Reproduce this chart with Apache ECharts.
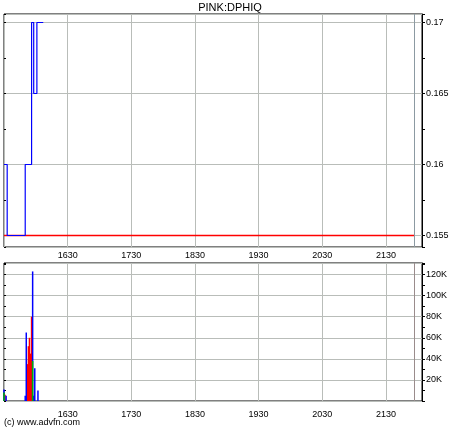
<!DOCTYPE html>
<html><head><meta charset="utf-8">
<script src="https://cdn.jsdelivr.net/npm/echarts@6/dist/echarts.min.js"></script>
<style>html,body{margin:0;padding:0;background:#fff}#c{width:460px;height:430px}</style>
</head><body><div id="c"></div>
<script>
// ---- data ----
const chartTitle = 'PINK:DPHIQ';
const copyright = '(c) www.advfn.com';
const priceTimes = ['15:30', '15:33', '15:50', '15:56', '15:58', '16:01', '16:07'];
const prices     = [0.16,    0.155,   0.16,    0.17,    0.165,   0.17,    0.17];
const refTimes   = ['15:30', '21:57'];
const refPrices  = [0.155,   0.155];
const markerTime = '21:57';
const upTimes    = ['15:30', '15:32', '15:50', '15:51', '15:57', '15:58', '15:59', '16:02'];
const upVols     = [11000,   5000,    5000,    65000,   123000,  5000,    31000,   10000];
const downTimes  = ['15:31', '15:52', '15:53', '15:54', '15:55', '15:56'];
const downVols   = [6000,    35000,   52000,   60000,   45000,   80000];
const flatTimes  = ['15:30', '15:57'];
const flatVols   = [8000,    38000];

function toMin(s) { const p = s.split(':'); return (+p[0]) * 60 + (+p[1]); }
function pairs(ts, vs) { return ts.map((t, i) => [toMin(t), vs[i]]); }
function hhmm(v) { const h = Math.floor(v / 60), m = Math.round(v - h * 60); return String(h) + String(m).padStart(2, '0'); }

const FONT = 'Liberation Sans';
const gridColor = '#b9bdb9';
const xMin = 930, xMax = 1324;
const pMin = 0.15419, pMax = 0.170599;
const vMax = 131000;

function xAxis(gi, margin) {
  return {
    type: 'value', gridIndex: gi, min: xMin, max: xMax, interval: 60,
    axisLine: { show: false }, axisTick: { show: false },
    splitLine: { show: true, lineStyle: { color: gridColor, width: 1 } },
    axisLabel: { formatter: hhmm, showMinLabel: false, showMaxLabel: false, fontSize: 9, color: '#000', fontFamily: FONT, margin: margin }
  };
}

const chart = echarts.init(document.getElementById('c'), null, { renderer: 'canvas' });
chart.setOption({
  animation: false,
  backgroundColor: '#fff',
  title: { text: chartTitle, left: 'center', top: 2, padding: 0, textStyle: { fontSize: 11, fontWeight: 'normal', color: '#000', fontFamily: FONT } },
  graphic: [{ type: 'text', left: 4, top: 418, style: { text: copyright, fontSize: 9, fill: '#000', fontFamily: FONT } }],
  grid: [
    { left: 4, right: 38, top: 14, height: 233, show: true, borderColor: '#000', borderWidth: 1, backgroundColor: '#fff' },
    { left: 4, right: 38, top: 263, height: 138, show: true, borderColor: '#000', borderWidth: 1, backgroundColor: '#fff' }
  ],
  xAxis: [xAxis(0, 4), xAxis(1, 9)],
  yAxis: [
    { type: 'value', gridIndex: 0, position: 'right', min: pMin, max: pMax, minInterval: 0.005, maxInterval: 0.005,
      axisLine: { show: true, lineStyle: { color: '#000' } },
      axisTick: { show: true, length: 3, lineStyle: { color: '#000' } },
      minorTick: { show: true, splitNumber: 2, length: 3, lineStyle: { color: '#000' } },
      splitLine: { show: true, lineStyle: { color: gridColor } },
      axisLabel: { fontSize: 9, color: '#000', fontFamily: FONT, margin: 4, showMinLabel: false, showMaxLabel: false,
        formatter: v => String(parseFloat(v.toFixed(4))) } },
    { type: 'value', gridIndex: 0, position: 'left', min: pMin, max: pMax, minInterval: 0.0025, maxInterval: 0.0025,
      axisLine: { show: false }, axisTick: { show: true, inside: true, length: 2, lineStyle: { color: '#000' } },
      axisLabel: { show: false }, splitLine: { show: false } },
    { type: 'value', gridIndex: 1, position: 'right', min: 0, max: vMax, minInterval: 20000, maxInterval: 20000,
      axisLine: { show: true, lineStyle: { color: '#000' } },
      axisTick: { show: true, length: 3, lineStyle: { color: '#000' } },
      minorTick: { show: true, splitNumber: 2, length: 3, lineStyle: { color: '#000' } },
      splitLine: { show: true, lineStyle: { color: gridColor } },
      axisLabel: { fontSize: 9, color: '#000', fontFamily: FONT, margin: 4, showMinLabel: false, showMaxLabel: false,
        formatter: v => (v / 1000) + 'K' } },
    { type: 'value', gridIndex: 1, position: 'left', min: 0, max: vMax, minInterval: 10000, maxInterval: 10000,
      axisLine: { show: false }, axisTick: { show: true, inside: true, length: 2, lineStyle: { color: '#000' } },
      axisLabel: { show: false }, splitLine: { show: false } }
  ],
  series: [
    { type: 'line', xAxisIndex: 0, yAxisIndex: 0, data: pairs(refTimes, refPrices), symbol: 'none', z: 3,
      lineStyle: { color: '#ff0000', width: 1.6 }, silent: true,
      markLine: { silent: true, symbol: 'none', label: { show: false }, lineStyle: { color: '#8c9aa2', type: 'solid', width: 1 },
        data: [{ xAxis: toMin(markerTime) }] } },
    { type: 'line', xAxisIndex: 0, yAxisIndex: 0, data: pairs(priceTimes, prices), step: 'end', symbol: 'none', z: 4,
      lineStyle: { color: '#0000ff', width: 1.2 } },
    { type: 'bar', xAxisIndex: 1, yAxisIndex: 2, data: pairs(downTimes, downVols), barWidth: 1.5, barGap: '-100%',
      itemStyle: { color: '#ff0000' },
      markLine: { silent: true, symbol: 'none', label: { show: false }, lineStyle: { color: '#9a8c8c', type: 'solid', width: 1 },
        data: [{ xAxis: toMin(markerTime) }] } },
    { type: 'bar', xAxisIndex: 1, yAxisIndex: 2, data: pairs(upTimes, upVols), barWidth: 1.5, barGap: '-100%',
      itemStyle: { color: '#0000ff' } },
    { type: 'bar', xAxisIndex: 1, yAxisIndex: 2, data: pairs(flatTimes, flatVols), barWidth: 1.5, barGap: '-100%',
      itemStyle: { color: '#00b000' } }
  ]
});
</script>
</body></html>
